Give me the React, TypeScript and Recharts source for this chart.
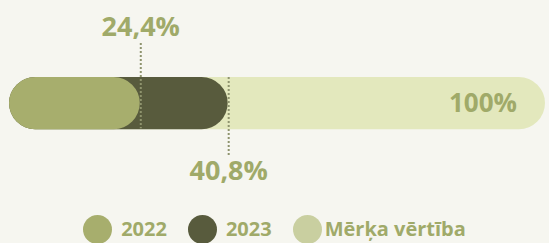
import { BarChart, Bar, XAxis, YAxis, Legend, LabelList } from 'recharts';

const categories = ['Rādītājs'];
const seriesNames = ['2022', '2023', 'Mērķa vērtība'];
const values2022 = [24.4];
const values2023 = [40.8];
const targetValues = [100];

const barColors = ['#a7ae6d', '#585b3d', '#e3e8bd'];
const legendColors = ['#a7ae6d', '#585b3d', '#c9cfa0'];
const textColor = '#a0aa69';
const dotColor = '#8f946e';
const font = '"Open Sans", sans-serif';

const data = categories.map((name, i) => ({
  name,
  y2022: values2022[i],
  y2023: values2023[i],
  target: targetValues[i],
}));

const fmt = (v: number) => String(v).replace('.', ',') + '%';

// dotted leader line at the end of a bar, with the value above or below
function MarkerLabel(props: any) {
  const { x, y, width, height, value, side } = props;
  const lx = x + width + 1;
  if (side === 'top') {
    return (
      <g>
        <line x1={lx} x2={lx} y1={y - 34} y2={y + height - 1} stroke={dotColor} strokeWidth={2} strokeDasharray="2 2" />
        <text x={lx} y={y - 41} textAnchor="middle" fill={textColor} fontSize={27} fontWeight={700} fontFamily={font}>
          {fmt(value)}
        </text>
      </g>
    );
  }
  return (
    <g>
      <line x1={lx} x2={lx} y1={y} y2={y + height + 26} stroke={dotColor} strokeWidth={2} strokeDasharray="2 2" />
      <text x={lx} y={y + height + 51} textAnchor="middle" fill={textColor} fontSize={27} fontWeight={700} fontFamily={font}>
        {fmt(value)}
      </text>
    </g>
  );
}

function renderLegend() {
  const gaps = [9, 9, 3];
  return (
    <div style={{ display: 'flex', justifyContent: 'center', alignItems: 'center', height: 30, fontFamily: font }}>
      {seriesNames.map((name, i) => (
        <div key={name} style={{ display: 'flex', alignItems: 'center', marginRight: i < seriesNames.length - 1 ? 21 : 0 }}>
          <span style={{ width: 29, height: 29, borderRadius: '50%', background: legendColors[i], display: 'inline-block' }} />
          <span style={{ marginLeft: gaps[i], color: textColor, fontSize: 20, fontWeight: 700, lineHeight: '30px' }}>{name}</span>
        </div>
      ))}
    </div>
  );
}

export default function App() {
  return (
    <div style={{ width: 549, height: 243, background: '#f6f6f0', fontFamily: font }}>
      <style>{'body{margin:0;background:#f6f6f0}'}</style>
      <BarChart width={549} height={243} data={data} layout="vertical" margin={{ top: 74, right: 4, left: 9, bottom: 81 }}>
        <XAxis type="number" domain={[0, 100]} hide />
        <YAxis yAxisId="t" type="category" dataKey="name" hide />
        <YAxis yAxisId="b" type="category" dataKey="name" hide />
        <YAxis yAxisId="a" type="category" dataKey="name" hide />
        <Bar yAxisId="t" dataKey="target" name={seriesNames[2]} fill={barColors[2]} radius={29} barSize={58} isAnimationActive={false}>
          <LabelList dataKey="target" position="insideRight" offset={28} formatter={(v: any) => fmt(v)} fill={textColor} fontSize={26} fontWeight={700} fontFamily={font} />
        </Bar>
        <Bar yAxisId="b" dataKey="y2023" name={seriesNames[1]} fill={barColors[1]} radius={29} barSize={58} isAnimationActive={false}>
          <LabelList dataKey="y2023" content={(p: any) => <MarkerLabel {...p} side="bottom" />} />
        </Bar>
        <Bar yAxisId="a" dataKey="y2022" name={seriesNames[0]} fill={barColors[0]} radius={29} barSize={58} isAnimationActive={false}>
          <LabelList dataKey="y2022" content={(p: any) => <MarkerLabel {...p} side="top" />} />
        </Bar>
        <Legend verticalAlign="bottom" wrapperStyle={{ left: 0, width: 549, bottom: -1 }} content={renderLegend} />
      </BarChart>
    </div>
  );
}
